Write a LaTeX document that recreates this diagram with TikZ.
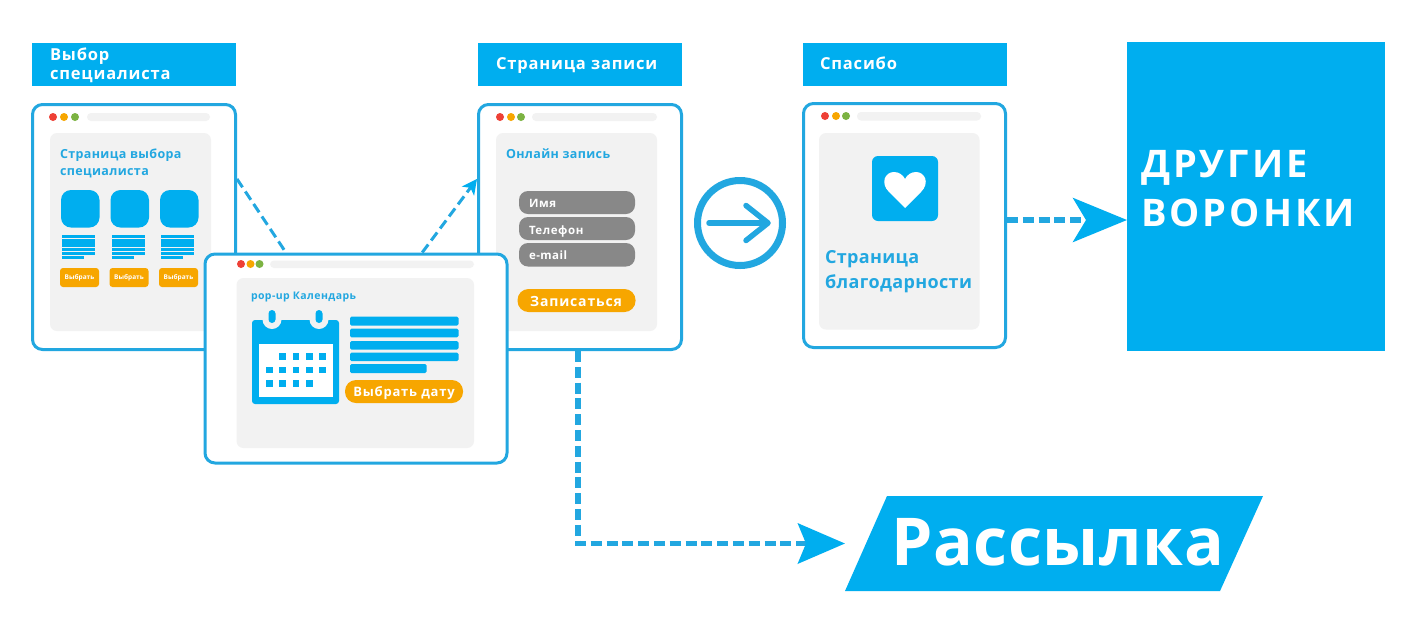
\documentclass[tikz,border=0pt]{standalone}
\usepackage{fontspec}
\setmainfont{Open Sans}
\usetikzlibrary{arrows.meta,calc}
\definecolor{cy}{HTML}{00AEEF}
\definecolor{ln}{HTML}{22A7E0}
\definecolor{pg}{HTML}{F2F2F2}
\definecolor{org}{HTML}{F7A600}
\definecolor{gr}{HTML}{888888}
\definecolor{dr}{HTML}{EE4036}
\definecolor{dg}{HTML}{7CB342}
\newcommand{\rbx}[6]{\fill[#1,rounded corners=#2] (#3,#4) rectangle (#5,#6);}
\newcommand{\wdots}[4]{\fill[dr] (#1,#4) circle[radius=4];\fill[org] (#2,#4) circle[radius=4];\fill[dg] (#3,#4) circle[radius=4];}
\newcommand{\ls}[1]{\addfontfeatures{LetterSpace=#1}}
\tikzset{
 head/.style={fill=cy,inner sep=0pt,outer sep=0pt,minimum height=43pt,minimum width=204pt},
 win/.style={draw=ln,line width=3pt,fill=white,rounded corners=10pt,inner sep=0pt,outer sep=1.5pt},
 lbl/.style={inner sep=0pt,outer sep=0pt,anchor=base west,font=\bfseries,align=left},
 hlbl/.style={lbl,text=white,font=\bfseries\fontsize{16.5}{18}\selectfont\ls{5}},
 ttl/.style={lbl,text=ln,font=\bfseries\fontsize{12.5}{16}\selectfont\ls{3}},
 btn/.style={inner sep=0pt,outer sep=0pt,anchor=base,text=white,font=\bfseries},
 thin link/.style={draw=ln,line width=3pt,dash pattern=on 10pt off 5pt},
 thick link/.style={draw=ln,line width=5.5pt,dash pattern=on 11pt off 4.8pt},
}
\begin{document}
\begin{tikzpicture}[x=1pt,y=-1pt]
\useasboundingbox (0,0) rectangle (1412,638);
\fill[white] (0,0) rectangle (1412,638);
% headers
\node[head] (h1) at (134,64.5) {};
\node[head] (h2) at (580,64.5) {};
\node[head] (h3) at (904.5,64.5) {};
\node[hlbl] (t1a) at (50,60) {Выбор};
\node[hlbl] (t1b) at (50,79.5) {специалиста};
\node[hlbl] (t2) at (496,69) {Страница записи};
\node[hlbl] (t3) at (820,69) {Спасибо};
% window 1
\node[win,minimum width=203pt,minimum height=245pt] (win1) at (134,227) {};
\wdots{53}{64}{75}{117}
\rbx{pg}{4pt}{87}{113}{210}{121}
\rbx{pg}{7pt}{50}{133}{211}{331}
\node[ttl] (w1t1) at (60,158) {Страница выбора};
\node[ttl] (w1t2) at (60,175) {специалиста};
\foreach \x/\n in {61/a,110.5/b,160/c}{
 \rbx{cy}{10pt}{\x}{190}{\x+38.5}{227.5}
 \foreach \k in {0,...,4}{\fill[cy] (\x+1,235+4.2*\k) rectangle (\x+34,238.4+4.2*\k);}
 \fill[cy] (\x+1,256) rectangle (\x+23,259.4);
 \rbx{org}{3pt}{\x-1}{268}{\x+38}{287}
 \node[btn,font=\bfseries\fontsize{6.5}{7}\selectfont] (btn\n) at (\x+18.5,279.5) {Выбрать};
}
% window 2
\node[win,minimum width=203pt,minimum height=245pt] (win2) at (580,227) {};
\wdots{500}{511}{521}{117}
\rbx{pg}{4pt}{532}{113}{657}{121}
\rbx{pg}{7pt}{496}{133}{657}{331}
\node[ttl] (w2t) at (506,158) {Онлайн запись};
\rbx{gr}{9pt}{519}{191}{635}{214}
\rbx{gr}{9pt}{519}{217}{635}{240}
\rbx{gr}{9pt}{519}{243}{635}{266.5}
\node[lbl,text=white,font=\bfseries\fontsize{11.5}{14}\selectfont\ls{5}] (f1) at (529,207) {Имя};
\node[lbl,text=white,font=\bfseries\fontsize{11.5}{14}\selectfont\ls{5}] (f2) at (529,234) {Телефон};
\node[lbl,text=white,font=\bfseries\fontsize{11.5}{14}\selectfont\ls{4}] (f3) at (529,259) {e-mail};
\rbx{org}{11pt}{517.5}{289}{635.5}{312}
\node[btn,font=\bfseries\fontsize{14}{16}\selectfont\ls{6}] (zap) at (576,306) {Записаться};
% connectors behind popup
\draw[thin link] (win1.25) -- (356,358);
\node[win,minimum width=302pt,minimum height=209pt] (pop) at (356,358.5) {};
\draw[thin link,-{Stealth[length=15pt,width=15pt,inset=4pt,color=cy]}] (pop.58.2) -- (win2.155.3);
\wdots{241}{250.5}{259.5}{264}
\rbx{pg}{4pt}{270}{260.5}{474}{268}
\rbx{pg}{7pt}{236.5}{278}{474}{448}
\node[lbl,text=ln,font=\bfseries\fontsize{10.5}{13}\selectfont\ls{4}] (pt) at (251,299) {pop-up Календарь};
% calendar
\rbx{cy}{3pt}{252}{320}{339}{404}
\fill[pg] (272,319.5) circle[radius=9.5];
\fill[pg] (319,319.5) circle[radius=9.5];
\fill[pg] (255,312) rectangle (336,320);
\rbx{cy}{3.5pt}{268.5}{310}{275.5}{323}
\rbx{cy}{3.5pt}{315.5}{310}{322.5}{323}
\fill[white] (259,343.5) rectangle (332.5,397);
\foreach \x in {282.5,295.8,309.2,322.5}{\fill[cy] (\x-3.3,353.4) rectangle (\x+3.3,360);}
\foreach \x in {269.2,282.5,295.8,309.2,322.5}{\fill[cy] (\x-3.3,366.7) rectangle (\x+3.3,373.3);}
\foreach \x in {269.2,282.5,295.8,309.2}{\fill[cy] (\x-3.3,380.2) rectangle (\x+3.3,386.8);}
\rbx{cy}{1.5pt}{350}{316.7}{458.5}{325.7}
\rbx{cy}{1.5pt}{350}{328.5}{458.5}{337.3}
\rbx{cy}{1.5pt}{350}{341}{458.5}{349.5}
\rbx{cy}{1.5pt}{350}{352.5}{458.5}{361.2}
\rbx{cy}{1.5pt}{350}{364}{426.7}{373}
\rbx{org}{11pt}{345}{380}{463}{403}
\node[btn,font=\bfseries\fontsize{13}{15}\selectfont\ls{6}] (dat) at (404,396) {Выбрать дату};
% circle arrow
\draw[ln,line width=7pt] (740,223) circle[radius=42.5];
\draw[ln,line width=5.5pt,line cap=round] (709,223) -- (767,223);
\draw[ln,line width=5.5pt,line cap=round,line join=round] (746,205.5) -- (768,223) -- (746,240.5);
% window 3
\node[win,minimum width=202pt,minimum height=244pt] (win3) at (904.5,225.5) {};
\wdots{825}{836}{846}{116}
\rbx{pg}{4pt}{857}{112}{981}{120.5}
\rbx{pg}{7pt}{819}{133}{979.5}{329.5}
\rbx{cy}{6pt}{872}{156}{938}{221}
\fill[white] (905,208) -- (889,192) .. controls (880,183) and (885,172) .. (894,172) .. controls (899,172) and (903,175) .. (905,179) .. controls (907,175) and (911,172) .. (916,172) .. controls (925,172) and (930,183) .. (921,192) -- cycle;
\node[lbl,text=ln,font=\bfseries\fontsize{18}{20}\selectfont\ls{2}] (w3a) at (825,263) {Страница};
\node[lbl,text=ln,font=\bfseries\fontsize{18}{20}\selectfont\ls{2}] (w3b) at (825,288.5) {благодарности};
% big box
\node[fill=cy,inner sep=0pt,outer sep=0pt,minimum width=258pt,minimum height=309pt] (big) at (1256,196.5) {};
\node[lbl,text=white,font=\bfseries\fontsize{38}{40}\selectfont\ls{8}] (d1) at (1141,177) {ДРУГИЕ};
\node[lbl,text=white,font=\bfseries\fontsize{38}{40}\selectfont\ls{8}] (d2) at (1141,226) {ВОРОНКИ};
\coordinate (yb) at (0,220);
\draw[thick link,-{Stealth[length=54pt,width=44pt,inset=13pt,color=cy]}] (win3.east |- yb) -- (big.west |- yb);
% mailing
\node[inner sep=0pt,outer sep=0pt,minimum width=418pt,minimum height=95pt] (mail) at (1054,543.5) {};
\fill[cy] (mail.south west) -- (887,496) -- (mail.north east) -- (1220,591) -- cycle;
\node[lbl,text=white,font=\bfseries\fontsize{66}{70}\selectfont\ls{1}] (mt) at (891,565) {Рассылка};
\draw[thick link,-{Stealth[length=47pt,width=40pt,inset=8pt,color=cy]}] (win2.-91.4) |- (mail.west);
\end{tikzpicture}
\end{document}
